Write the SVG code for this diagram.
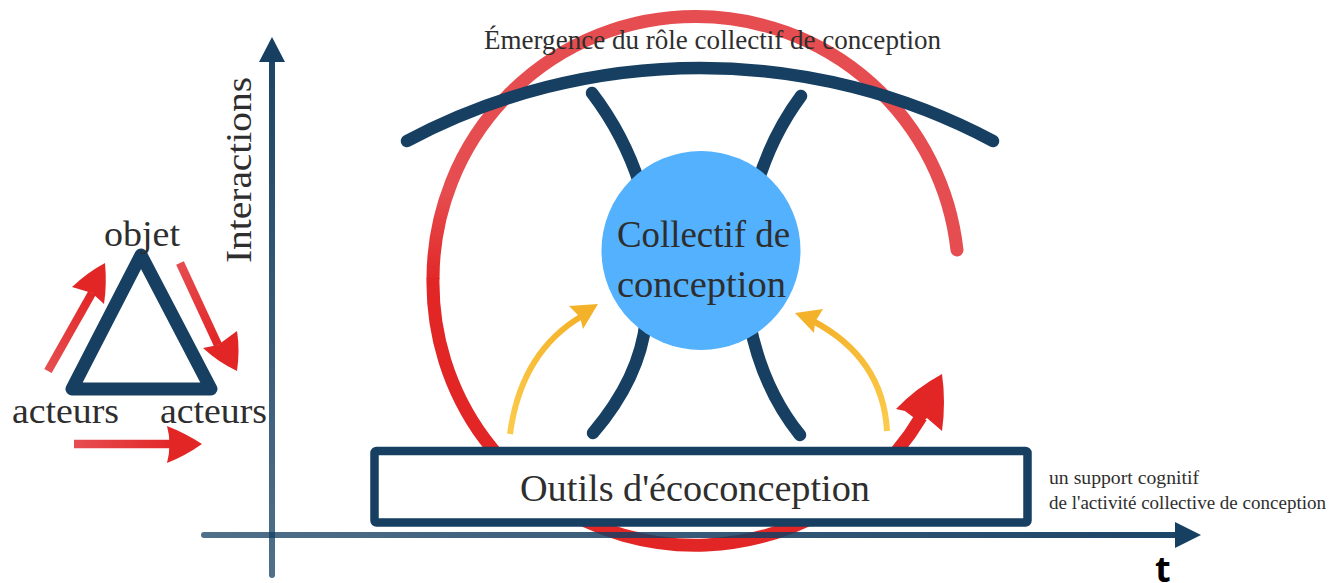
<svg xmlns="http://www.w3.org/2000/svg" width="1342" height="583" viewBox="0 0 1342 583">
<style>
.t{font-family:"Liberation Serif","Times New Roman",serif;fill:#2e2e2e}
.d{fill:none;stroke:#163f62;stroke-width:12.5;stroke-linecap:round}
.y{fill:none;stroke-width:6}
.yh{fill:#f4b22a}
.h{fill:#e22626}
.r{fill:none;stroke-width:8.5}
.c{fill:none;stroke-width:13}
</style>
<defs>
<linearGradient id="gc" gradientUnits="userSpaceOnUse" x1="0" y1="190" x2="0" y2="285"><stop offset="0" stop-color="#e64d50"/><stop offset="1" stop-color="#e22626"/></linearGradient>
<linearGradient id="gx" gradientUnits="userSpaceOnUse" x1="204" y1="0" x2="1180" y2="0"><stop offset="0" stop-color="#163f62" stop-opacity=".75"/><stop offset="1" stop-color="#163f62" stop-opacity=".97"/></linearGradient>
<linearGradient id="gy" gradientUnits="userSpaceOnUse" x1="0" y1="575" x2="0" y2="60"><stop offset="0" stop-color="#163f62" stop-opacity=".75"/><stop offset="1" stop-color="#163f62" stop-opacity=".97"/></linearGradient>
<linearGradient id="g1" gradientUnits="userSpaceOnUse" x1="49" y1="370" x2="92" y2="293"><stop offset="0" stop-color="#e64d50"/><stop offset="1" stop-color="#e22626"/></linearGradient>
<linearGradient id="g2" gradientUnits="userSpaceOnUse" x1="180" y1="263" x2="218" y2="345"><stop offset="0" stop-color="#e64d50"/><stop offset="1" stop-color="#e22626"/></linearGradient>
<linearGradient id="g3" gradientUnits="userSpaceOnUse" x1="75" y1="0" x2="175" y2="0"><stop offset="0" stop-color="#e64d50"/><stop offset="1" stop-color="#e22626"/></linearGradient>
<linearGradient id="gyl" gradientUnits="userSpaceOnUse" x1="510" y1="434" x2="580" y2="317"><stop offset="0" stop-color="#fccb4c"/><stop offset="1" stop-color="#f4b22a"/></linearGradient>
<linearGradient id="gyr" gradientUnits="userSpaceOnUse" x1="887" y1="431" x2="815" y2="322"><stop offset="0" stop-color="#fccb4c"/><stop offset="1" stop-color="#f4b22a"/></linearGradient>
</defs>
<g id="cycle-arc">
<path class="c" stroke="#e64d50" stroke-linecap="round" d="M957 250A262.500 262.500 0 0 0 695.500 16.500"/>
<path class="c" stroke="url(#gc)" d="M696 16.500A262.500 262.500 0 0 0 433 279"/>
<path class="c" stroke="#e22626" d="M433 278A262.500 262.500 0 0 0 921 417"/>
<path class="h" d="M942 374Q946 402 942 431L927 418L921 423L905 411L896 409Q916 388 942 374Z"/>
</g>
<g id="connectors">
<path class="d" d="M407 141A624 624 0 0 1 993 141"/>
<path class="d" d="M592 93Q624 135 640 185"/>
<path class="d" d="M801 96Q772 135 757 185"/>
<path class="d" d="M646 320Q640 378 593 433"/>
<path class="d" d="M749 320Q762 388 800 435"/>
<path class="y" stroke="url(#gyl)" d="M510 434Q521 352 582 316"/>
<path class="yh" d="M598 304L569 306L580 317L583 329Z"/>
<path class="y" stroke="url(#gyr)" d="M887 431Q883 358 813 321"/>
<path class="yh" d="M795 313L823 309L815 322L814 333Z"/>
</g>
<g id="node-collectif">
<circle cx="701" cy="250.500" r="99.500" fill="#53b1fd"/>
<text class="t" x="617" y="247" font-size="37" textLength="173" lengthAdjust="spacingAndGlyphs">Collectif de</text>
<text class="t" x="617" y="297" font-size="37" textLength="169" lengthAdjust="spacingAndGlyphs">conception</text>
</g>
<g id="node-outils">
<rect x="374.500" y="451" width="653" height="71.500" rx="2" fill="#fff" stroke="#163f62" stroke-width="8.500"/>
<text class="t" x="520" y="501" font-size="37" textLength="350" lengthAdjust="spacingAndGlyphs">Outils d'écoconception</text>
</g>
<g id="axes">
<path d="M204 535H1177" stroke="url(#gx)" stroke-width="6" stroke-linecap="round"/>
<path d="M1175 522L1201 535L1175 548Z" fill="#163f62"/>
<path d="M272 575V60" stroke="url(#gy)" stroke-width="6" stroke-linecap="round"/>
<path d="M259 62L272 37L285 62Z" fill="#163f62"/>
<text class="t" transform="translate(251 263) rotate(-90)" font-size="36" textLength="186" lengthAdjust="spacingAndGlyphs">Interactions</text>
<text x="1155" y="582" font-family="'Noto Sans',sans-serif" font-weight="700" font-size="36" fill="#000">t</text>
</g>
<g id="node-triangle">
<path d="M72 389H211L141 255Z" fill="#fff" stroke="#163f62" stroke-width="13" stroke-linejoin="round"/>
<text class="t" x="104" y="246" font-size="36" textLength="76" lengthAdjust="spacingAndGlyphs">objet</text>
<text class="t" x="12" y="423" font-size="36" textLength="107" lengthAdjust="spacingAndGlyphs">acteurs</text>
<text class="t" x="160" y="423" font-size="36" textLength="107" lengthAdjust="spacingAndGlyphs">acteurs</text>
</g>
<g id="triangle-arrows">
<path class="r" stroke="url(#g1)" d="M48 371L92 293"/>
<path class="h" d="M105 263Q107 285 104 304L92 293L72 287Q88 272 105 263Z"/>
<path class="r" stroke="url(#g2)" d="M180 263L218 345"/>
<path class="h" d="M237 371Q218 362 203 348L218 345L237 331Q240 350 237 371Z"/>
<path class="r" stroke="url(#g3)" d="M74 444H175"/>
<path class="h" d="M202 444Q185 456 167 463Q172 444 167 426Q185 433 202 444Z"/>
</g>
<g id="labels">
<text class="t" x="484" y="49" font-size="27" textLength="457" lengthAdjust="spacingAndGlyphs">Émergence du rôle collectif de conception</text>
<text class="t" x="1049" y="484" font-size="18" textLength="150" lengthAdjust="spacingAndGlyphs">un support cognitif</text>
<text class="t" x="1049" y="509" font-size="18" textLength="277" lengthAdjust="spacingAndGlyphs">de l'activité collective de conception</text>
</g>
</svg>
